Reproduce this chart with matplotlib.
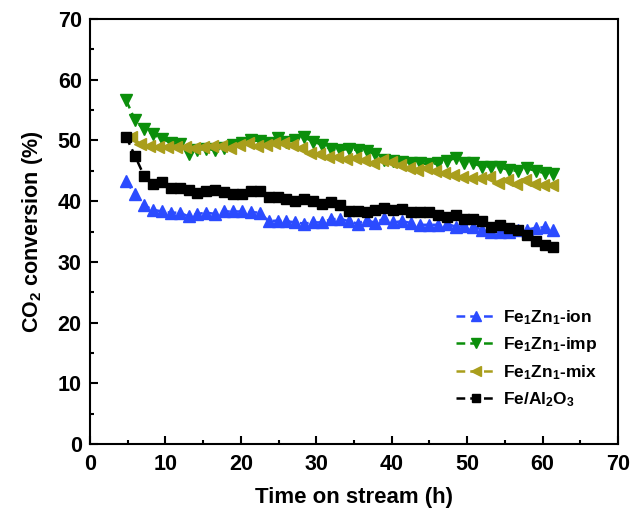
import matplotlib
matplotlib.use("Agg")
import matplotlib.pyplot as plt
from matplotlib.ticker import MultipleLocator

# Arial-like bold text, bold mathtext for the sub/superscripts
plt.rcParams["font.family"] = ["Liberation Sans", "DejaVu Sans"]
plt.rcParams["font.weight"] = "bold"
plt.rcParams["mathtext.fontset"] = "custom"
plt.rcParams["mathtext.rm"] = "Liberation Sans:bold"
plt.rcParams["mathtext.bf"] = "Liberation Sans:bold"
plt.rcParams["mathtext.default"] = "bf"

# time on stream (h), shared by ion / imp / Fe-Al2O3
hours = [4.80, 5.98, 7.16, 8.34, 9.52, 10.70, 11.88, 13.06, 14.24, 15.42,
         16.60, 17.78, 18.96, 20.14, 21.32, 22.50, 23.68, 24.86, 26.04, 27.22,
         28.40, 29.58, 30.76, 31.94, 33.12, 34.30, 35.48, 36.66, 37.84, 39.02,
         40.20, 41.38, 42.56, 43.74, 44.92, 46.10, 47.28, 48.46, 49.64, 50.82,
         52.00, 53.18, 54.36, 55.54, 56.72, 57.90, 59.08, 60.26, 61.44]
# the physical mixture was sampled slightly later
hours_mix = [5.50, 6.69, 7.87, 9.06, 10.24, 11.43, 12.61, 13.80, 14.98, 16.17,
             17.35, 18.54, 19.72, 20.91, 22.09, 23.28, 24.46, 25.65, 26.83, 28.02,
             29.20, 30.39, 31.57, 32.76, 33.94, 35.13, 36.31, 37.50, 38.68, 39.87,
             41.05, 42.24, 43.42, 44.61, 45.79, 46.98, 48.16, 49.35, 50.53, 51.72,
             52.90, 54.09, 55.27, 56.46, 57.64, 58.83, 60.01, 61.20]

# CO2 conversion (%)
conv_ion = [43.3, 41.1, 39.3, 38.6, 38.3, 38.1, 38.1, 37.5, 37.9, 38.1,
            37.9, 38.3, 38.3, 38.3, 38.2, 38.1, 36.7, 36.8, 36.7, 36.5,
            36.3, 36.5, 36.5, 37.0, 37.1, 36.7, 36.3, 36.9, 36.4, 37.2,
            36.5, 36.7, 36.4, 36.1, 36.1, 36.1, 36.3, 35.8, 35.9, 35.8,
            35.3, 35.0, 34.9, 34.9, 35.3, 35.3, 35.6, 35.7, 35.2]
conv_imp = [56.6, 53.3, 51.8, 51.0, 50.3, 49.6, 49.4, 47.7, 48.5, 48.6,
            48.4, 48.8, 49.2, 49.6, 50.0, 49.9, 49.5, 50.4, 49.8, 50.0,
            50.5, 49.8, 49.3, 48.6, 48.4, 48.6, 48.4, 48.2, 47.8, 46.8,
            46.6, 46.5, 46.3, 46.2, 46.1, 46.2, 46.6, 47.1, 46.3, 46.2,
            45.7, 45.7, 45.6, 45.1, 45.0, 45.4, 45.0, 44.6, 44.5]
conv_mix = [50.5, 49.4, 49.0, 48.9, 48.9, 48.9, 48.9, 48.8, 48.9, 49.1,
            49.1, 48.7, 49.3, 49.6, 49.1, 49.3, 49.6, 49.6, 49.3, 48.7,
            47.9, 47.8, 47.3, 47.2, 46.9, 47.1, 46.8, 46.3, 46.7, 46.5,
            46.0, 45.4, 45.1, 45.4, 45.0, 44.6, 44.3, 44.0, 43.8, 43.8,
            43.9, 43.0, 43.5, 42.9, 43.5, 42.9, 42.7, 42.7]
conv_al2o3 = [50.6, 47.4, 44.2, 42.9, 43.1, 42.2, 42.2, 41.8, 41.3, 41.6,
              41.8, 41.5, 41.2, 41.2, 41.6, 41.6, 40.7, 40.7, 40.3, 40.1,
              40.4, 40.0, 39.6, 39.8, 39.3, 38.4, 38.4, 38.2, 38.6, 38.9,
              38.6, 38.7, 38.2, 38.2, 38.2, 37.8, 37.4, 37.8, 37.1, 37.1,
              36.8, 35.8, 36.1, 35.6, 35.3, 34.5, 33.5, 32.7, 32.4]

fig = plt.figure(figsize=(6.32, 5.12), dpi=100)
ax = fig.add_axes([0.1424, 0.1328, 0.8354, 0.8301])

common = dict(linestyle="--", linewidth=1.8, dashes=(3.5, 2))
ax.plot(hours, conv_ion, marker="^", ms=8, color="#2b4bff",
        label=r"Fe$_1$Zn$_1$-ion", **common)
ax.plot(hours, conv_imp, marker="v", ms=8, color="#0b8f0b",
        label=r"Fe$_1$Zn$_1$-imp", **common)
ax.plot(hours_mix, conv_mix, marker="<", ms=8, color="#a99e1c",
        label=r"Fe$_1$Zn$_1$-mix", **common)
ax.plot(hours, conv_al2o3, marker="s", ms=6.5, color="black",
        label=r"Fe/Al$_2$O$_3$", **common)

ax.set_xlim(0, 70)
ax.set_ylim(0, 70)
ax.xaxis.set_major_locator(MultipleLocator(10))
ax.xaxis.set_minor_locator(MultipleLocator(5))
ax.yaxis.set_major_locator(MultipleLocator(10))
ax.yaxis.set_minor_locator(MultipleLocator(5))
ax.tick_params(which="major", direction="in", length=6, width=1.5,
               labelsize=15.5, pad=6)
ax.tick_params(axis="x", which="major", pad=7)
ax.tick_params(which="minor", direction="in", length=3, width=1.5)
for spine in ax.spines.values():
    spine.set_linewidth(1.5)

ax.set_xlabel("Time on stream (h)", fontsize=16, fontweight="bold", labelpad=9)
ax.set_ylabel(r"CO$_2$ conversion (%)", fontsize=15.5, fontweight="bold", labelpad=9)

ax.legend(loc="upper left", bbox_to_anchor=(0.693, 0.320), frameon=False,
          fontsize=12.5, borderpad=0, borderaxespad=0, handlelength=2.35,
          handletextpad=0.35, labelspacing=0.5, markerscale=0.9)

fig.savefig("out.png", dpi=100)
